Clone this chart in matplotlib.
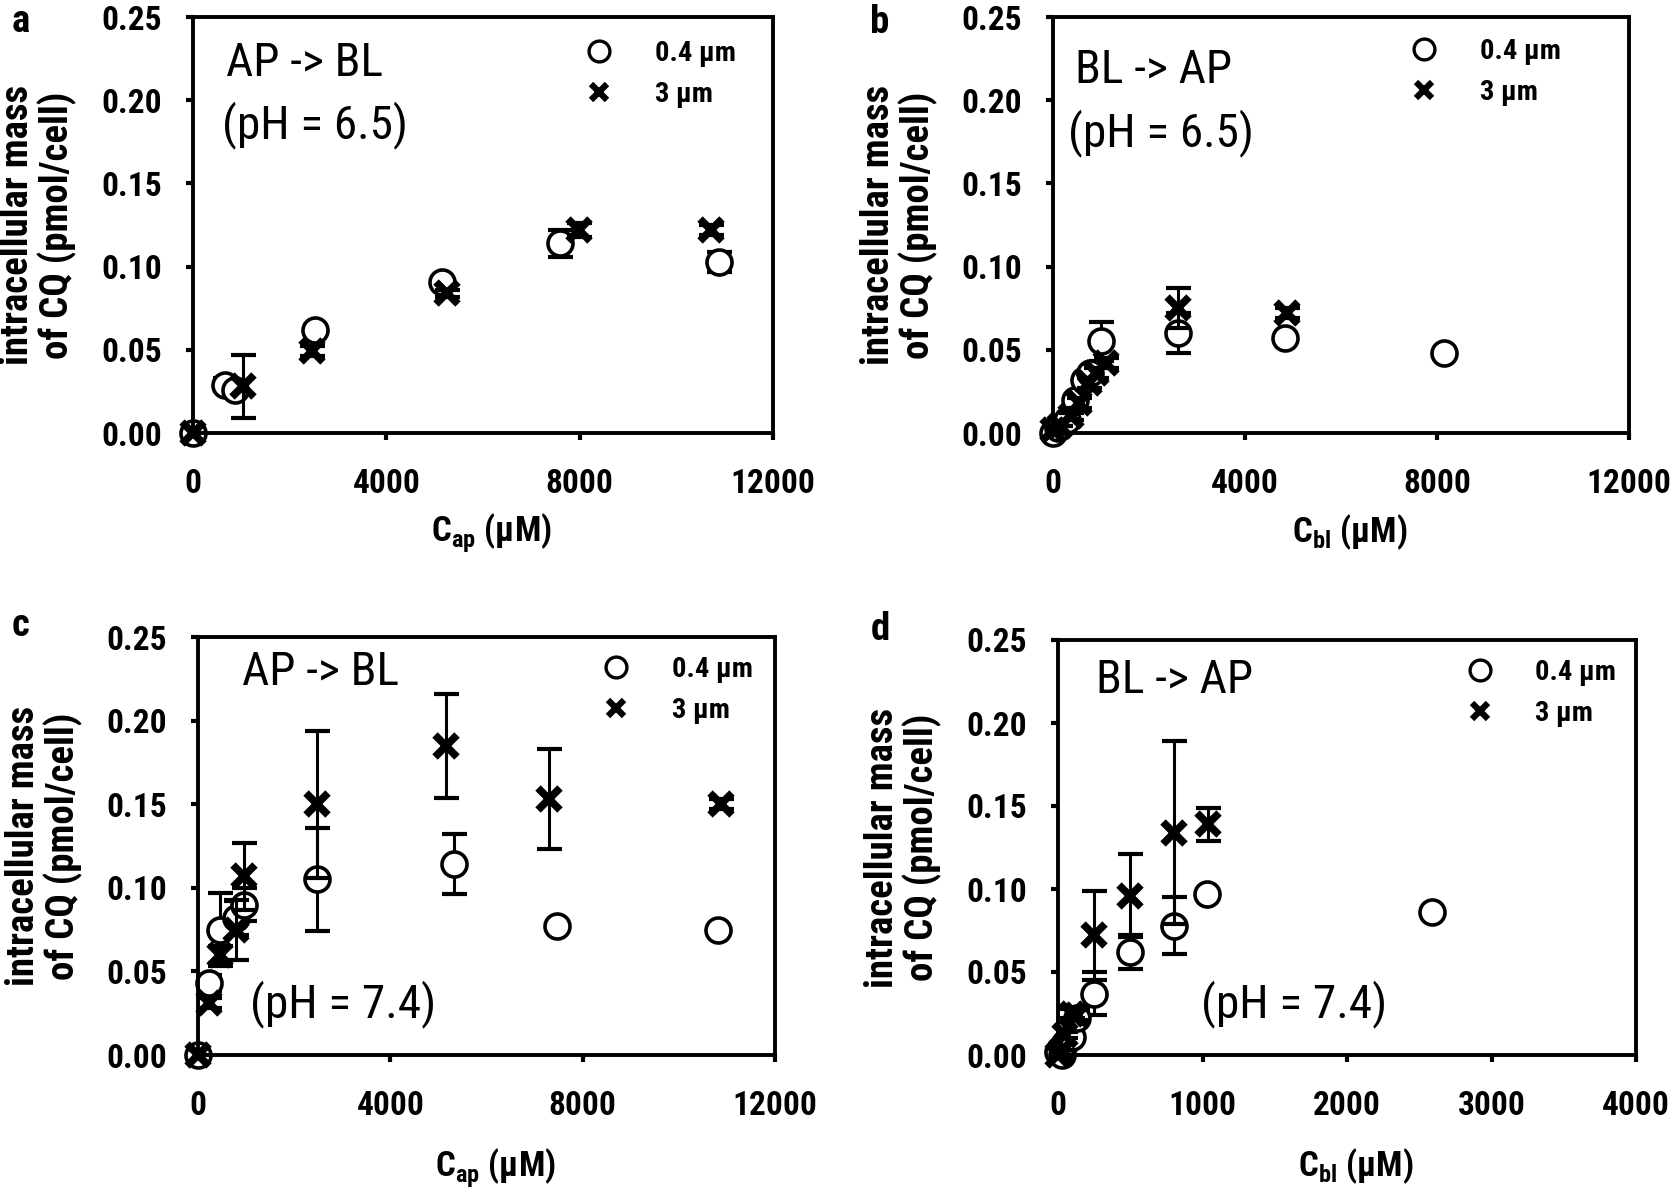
import matplotlib
matplotlib.use('Agg')
import matplotlib.pyplot as plt
from matplotlib import font_manager
from matplotlib.lines import Line2D

# pick a narrow humanist font if one is installed (the original uses Calibri)
installed = {f.name for f in font_manager.fontManager.ttflist}
family = 'DejaVu Sans'
for name in ['Roboto Condensed', 'Liberation Sans Narrow', 'Lato', 'Liberation Sans']:
    if name in installed:
        family = name
        break

plt.rcParams['font.family'] = [family, 'DejaVu Sans']
plt.rcParams['mathtext.fontset'] = 'custom'
plt.rcParams['mathtext.rm'] = family
plt.rcParams['mathtext.bf'] = family + ':bold'

# ---- data ----
# panel a: AP -> BL, pH 6.5
a_small_x = [0, 660, 870, 2530, 5150, 7600, 10880]
a_small_y = [0.0, 0.029, 0.026, 0.062, 0.091, 0.114, 0.103]
a_small_err = [0.0, 0.004, 0.004, 0.003, 0.002, 0.008, 0.006]
a_large_x = [0, 1030, 2470, 5260, 7990, 10720]
a_large_y = [0.0, 0.028, 0.049, 0.084, 0.122, 0.122]
a_large_err = [0.0, 0.019, 0.003, 0.002, 0.004, 0.003]

# panel b: BL -> AP, pH 6.5
b_small_x = [0, 100, 300, 450, 650, 780, 1000, 2600, 4830, 8150]
b_small_y = [0.0, 0.003, 0.008, 0.020, 0.032, 0.036, 0.055, 0.060, 0.057, 0.048]
b_small_err = [0.0, 0.0, 0.002, 0.003, 0.003, 0.003, 0.012, 0.012, 0.003, 0.002]
b_large_x = [0, 150, 380, 550, 750, 900, 1100, 2600, 4880]
b_large_y = [0.002, 0.004, 0.010, 0.018, 0.030, 0.036, 0.042, 0.075, 0.072]
b_large_err = [0.0, 0.0, 0.002, 0.003, 0.003, 0.003, 0.003, 0.012, 0.003]

# panel c: AP -> BL, pH 7.4
c_small_x = [0, 224, 449, 785, 953, 2467, 5327, 7458, 10822]
c_small_y = [0.0, 0.043, 0.075, 0.082, 0.090, 0.105, 0.114, 0.077, 0.075]
c_small_err = [0.0, 0.005, 0.022, 0.010, 0.010, 0.031, 0.018, 0.003, 0.002]
c_large_x = [0, 224, 449, 785, 953, 2467, 5160, 7290, 10878]
c_large_y = [0.0, 0.031, 0.060, 0.075, 0.107, 0.150, 0.185, 0.153, 0.150]
c_large_err = [0.0, 0.003, 0.005, 0.018, 0.020, 0.044, 0.031, 0.030, 0.003]

# panel d: BL -> AP, pH 7.4
d_small_x = [0, 25, 50, 100, 130, 250, 500, 800, 1030, 2590]
d_small_y = [0.002, 0.0, 0.007, 0.011, 0.022, 0.037, 0.062, 0.078, 0.097, 0.086]
d_small_err = [0.0, 0.0, 0.002, 0.002, 0.003, 0.013, 0.010, 0.017, 0.003, 0.002]
d_large_x = [0, 25, 50, 100, 130, 250, 500, 800, 1040]
d_large_y = [0.0, 0.003, 0.012, 0.025, 0.024, 0.072, 0.096, 0.134, 0.139]
d_large_err = [0.0, 0.0, 0.002, 0.003, 0.003, 0.027, 0.025, 0.055, 0.010]

y_ticks = [0.0, 0.05, 0.10, 0.15, 0.20, 0.25]
y_tick_labels = ['0.00', '0.05', '0.10', '0.15', '0.20', '0.25']
x_ticks_wide = [0, 4000, 8000, 12000]
x_ticks_narrow = [0, 1000, 2000, 3000, 4000]

W, H = 1677, 1201
fig = plt.figure(figsize=(W / 100, H / 100), dpi=100)


def add_ax(left, top, right, bottom):
    return fig.add_axes([left / W, (H - bottom) / H, (right - left) / W, (bottom - top) / H])


def draw_panel(ax, sx, sy, se, lx, ly, le, xticks, xlabel, xlabel_y, letter, letter_xy,
               flow, ph, flow_pos, ph_pos, leg_pos):
    # circles (white filled) sit under the crosses and their error bars
    ax.errorbar(sx, sy, yerr=se, fmt='none', ecolor='black', elinewidth=2.2,
                capsize=9, capthick=3, zorder=1)
    ax.plot(sx, sy, 'o', mfc='white', mec='black', ms=18, mew=2.6, zorder=2, clip_on=False)
    ax.errorbar(lx, ly, yerr=le, fmt='none', ecolor='black', elinewidth=2.2,
                capsize=9, capthick=3, zorder=3)
    ax.plot(lx, ly, 'x', color='black', ms=16, mew=5.5, zorder=4, clip_on=False)

    ax.set_xlim(xticks[0], xticks[-1])
    ax.set_ylim(0, 0.25)
    ax.set_xticks(xticks)
    ax.set_xticklabels([str(t) for t in xticks])
    ax.set_yticks(y_ticks)
    ax.set_yticklabels(y_tick_labels)
    ax.tick_params(axis='both', direction='out', length=5, width=3,
                   labelsize=24)
    ax.tick_params(axis='x', pad=20)
    ax.tick_params(axis='y', pad=17)
    for lab in ax.get_xticklabels() + ax.get_yticklabels():
        lab.set_fontweight('bold')
    for sp in ax.spines.values():
        sp.set_linewidth(2.8)

    ax.set_ylabel('intracellular mass\nof CQ (pmol/cell)', fontsize=28,
                  fontweight='bold', linespacing=1.05)
    ax.yaxis.set_label_coords(-0.2, 0.5)
    ax.set_xlabel(xlabel, fontsize=25, fontweight='bold')
    ax.xaxis.set_label_coords(0.515, xlabel_y)

    ax.text(flow_pos[0], flow_pos[1], flow, transform=ax.transAxes,
            fontsize=34, va='center', ha='left')
    ax.text(ph_pos[0], ph_pos[1], ph, transform=ax.transAxes,
            fontsize=34, va='center', ha='left')

    handles = [Line2D([], [], ls='none', marker='o', mfc='none', mec='black', ms=15, mew=2.4),
               Line2D([], [], ls='none', marker='x', color='black', ms=12, mew=4.5)]
    ax.legend(handles, ['0.4 µm', '3 µm'], loc='upper left', bbox_to_anchor=leg_pos,
              frameon=False, handlelength=1.0, handletextpad=1.45, labelspacing=0.5,
              borderpad=0, borderaxespad=0,
              prop={'weight': 'bold', 'size': 20.5})

    fig.text(letter_xy[0] / W, 1 - letter_xy[1] / H, letter,
             fontsize=28, fontweight='bold', va='baseline', ha='center')


ax_a = add_ax(193, 17, 773, 433)
draw_panel(ax_a, a_small_x, a_small_y, a_small_err, a_large_x, a_large_y, a_large_err,
           x_ticks_wide, r'C$_{\mathbf{ap}}$ (µM)', -0.19, 'a', (21, 32), 'AP -> BL', '(pH = 6.5)',
           (0.057, 0.89), (0.05, 0.74), (0.676, 0.945))

ax_b = add_ax(1053, 17, 1629, 433)
draw_panel(ax_b, b_small_x, b_small_y, b_small_err, b_large_x, b_large_y, b_large_err,
           x_ticks_wide, r'C$_{\mathbf{bl}}$ (µM)', -0.19, 'b', (880, 33), 'BL -> AP', '(pH = 6.5)',
           (0.038, 0.873), (0.026, 0.72), (0.62, 0.95))

ax_c = add_ax(198, 637, 775, 1055)
draw_panel(ax_c, c_small_x, c_small_y, c_small_err, c_large_x, c_large_y, c_large_err,
           x_ticks_wide, r'C$_{\mathbf{ap}}$ (µM)', -0.22, 'c', (21, 636), 'AP -> BL', '(pH = 7.4)',
           (0.076, 0.916), (0.09, 0.122), (0.70, 0.955))

ax_d = add_ax(1058, 640, 1636, 1055)
draw_panel(ax_d, d_small_x, d_small_y, d_small_err, d_large_x, d_large_y, d_large_err,
           x_ticks_narrow, r'C$_{\mathbf{bl}}$ (µM)', -0.22, 'd', (880, 640), 'BL -> AP', '(pH = 7.4)',
           (0.066, 0.904), (0.247, 0.123), (0.705, 0.955))

plt.savefig('out.png', dpi=100)
